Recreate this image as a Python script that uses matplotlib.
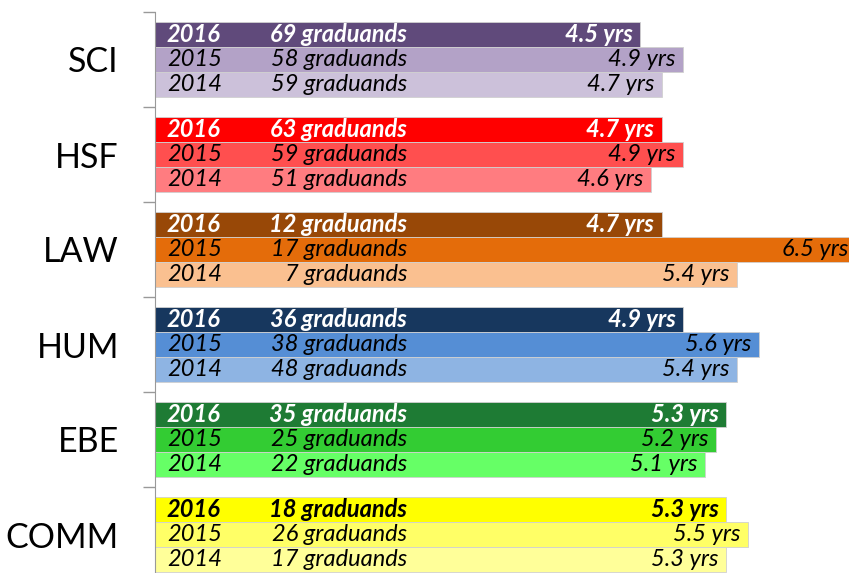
import numpy as np
import matplotlib.pyplot as plt

# data
faculties = ['SCI', 'HSF', 'LAW', 'HUM', 'EBE', 'COMM']
years = ['2016', '2015', '2014']
yrs = {
    '2016': [4.5, 4.7, 4.7, 4.9, 5.3, 5.3],
    '2015': [4.9, 4.9, 6.5, 5.6, 5.2, 5.5],
    '2014': [4.7, 4.6, 5.4, 5.4, 5.1, 5.3],
}
graduands = {
    '2016': [69, 63, 12, 36, 35, 18],
    '2015': [58, 59, 17, 38, 25, 26],
    '2014': [59, 51, 7, 48, 22, 17],
}
colors = {
    'SCI':  ['#604a7b', '#b3a2c7', '#ccc1da'],
    'HSF':  ['#ff0000', '#ff4f4f', '#ff7c80'],
    'LAW':  ['#984807', '#e46c0a', '#fac090'],
    'HUM':  ['#17375e', '#558ed5', '#8eb4e3'],
    'EBE':  ['#1e7b34', '#33cc33', '#66ff66'],
    'COMM': ['#ffff00', '#ffff66', '#ffff99'],
}

plt.rcParams['font.family'] = ['Lato', 'DejaVu Sans']

fig = plt.figure(figsize=(8.49, 5.73), dpi=100)
ax = fig.add_axes([155 / 849, -9 / 573, 694 / 849, 570 / 573])

bh = 0.265
for i, fac in enumerate(faculties):
    for j, yr in enumerate(years):
        y = i + (j - 1) * bh
        v = yrs[yr][i]
        ax.barh(y, v, height=bh, color=colors[fac][j], edgecolor='#d0d0d0', linewidth=0.6)
        if j == 0:
            tc = 'black' if fac == 'COMM' else 'white'
            fw = 'bold'
        else:
            tc = 'black'
            fw = 'normal'
        kw = dict(va='center', color=tc, fontweight=fw, fontstyle='italic', fontsize=17)
        ax.text(0.11, y, yr, ha='left', **kw)
        ax.text(2.34, y, f'{graduands[yr][i]} graduands', ha='right', **kw)
        ax.text(v - 0.07, y, f'{v} yrs', ha='right', **kw)

ax.set_xlim(0, 694 / 107.8)
ax.set_ylim(5.5, -0.5)
ax.set_yticks(range(len(faculties)))
ax.set_yticklabels(faculties, fontsize=24.5)
ax.tick_params(axis='y', which='major', length=0, pad=26)
ax.set_yticks(np.arange(-0.5, 6, 1), minor=True)
ax.tick_params(axis='y', which='minor', length=9, color='#999999', width=1)
ax.set_xticks([])
for s in ['top', 'right', 'bottom']:
    ax.spines[s].set_visible(False)
ax.spines['left'].set_color('#999999')

fig.savefig('out.png', dpi=100)
